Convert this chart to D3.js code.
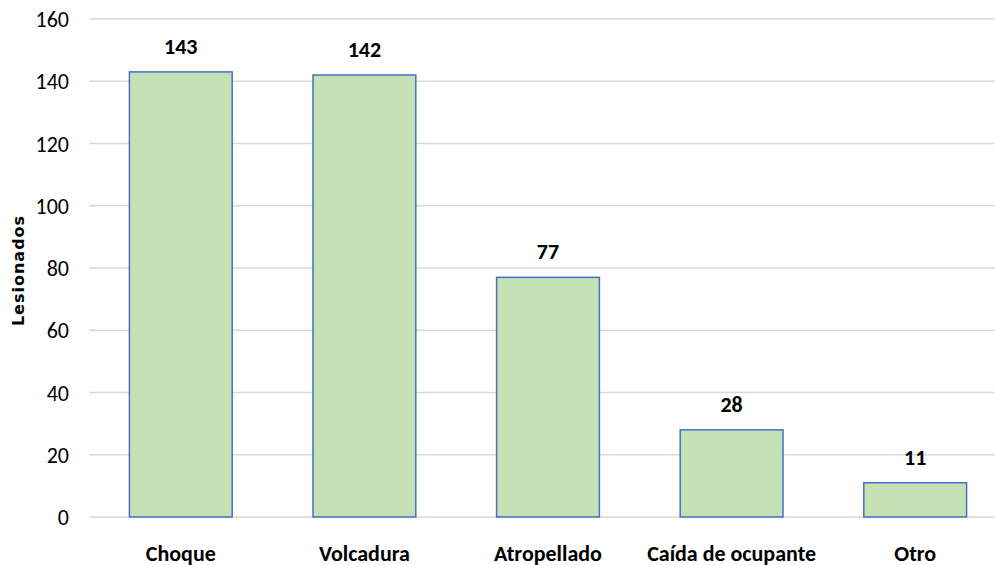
<!DOCTYPE html>
<html><head><meta charset="utf-8">
<script src="https://cdn.jsdelivr.net/npm/d3@7"></script>
<style>body{margin:0;background:#fff;} svg{display:block;}</style>
</head><body>
<script>
const categories = ["Choque", "Volcadura", "Atropellado", "Caída de ocupante", "Otro"];
const values = [143, 142, 77, 28, 11];
const yTicks = [0, 20, 40, 60, 80, 100, 120, 140, 160];
const yTitle = "Lesionados";

const W = 995, H = 565;
const svg = d3.select("body").append("svg").attr("width", W).attr("height", H);
const font = "Carlito, 'Liberation Sans Narrow', 'Open Sans', sans-serif";
const titleFont = "'DejaVu Sans', 'Open Sans', sans-serif";

const x = d3.scaleBand().domain(categories).range([89, 1007]).paddingInner(0.44).paddingOuter(0.22);
const y = d3.scaleLinear().domain([0, 160]).range([517, 19]);

// gridlines
svg.append("g").selectAll("line").data(yTicks).join("line")
  .attr("x1", 89).attr("x2", W).attr("y1", d => y(d)).attr("y2", d => y(d))
  .attr("stroke", "#d9d9d9").attr("stroke-width", 1.5);

// y axis labels
const yAxis = d3.axisLeft(y).tickValues(yTicks).tickSize(0).tickPadding(0);
const gy = svg.append("g").attr("transform", "translate(69,0)").call(yAxis);
gy.select(".domain").remove();
gy.selectAll("text").attr("font-family", font).attr("font-size", 22).attr("fill", "#000").attr("dy", "0.35em");

// bars
svg.append("g").selectAll("rect").data(values).join("rect")
  .attr("x", (d, i) => x(categories[i]))
  .attr("width", x.bandwidth())
  .attr("y", d => y(d))
  .attr("height", d => y(0) - y(d))
  .attr("fill", "#c5e0b4").attr("stroke", "#4472c4").attr("stroke-width", 1.5);

// value labels
svg.append("g").selectAll("text").data(values).join("text")
  .attr("x", (d, i) => x(categories[i]) + x.bandwidth() / 2)
  .attr("y", d => y(d) - 18)
  .attr("text-anchor", "middle").attr("font-family", font).attr("font-weight", "bold")
  .attr("font-size", 22).attr("fill", "#000").text(d => d);

// x axis labels
const xAxis = d3.axisBottom(x).tickSize(0).tickPadding(0);
const gx = svg.append("g").attr("transform", "translate(0,561)").call(xAxis);
gx.select(".domain").remove();
gx.selectAll("text").attr("font-family", font).attr("font-weight", "bold").attr("font-size", 22)
  .attr("fill", "#000").attr("dy", 0).attr("y", 0);

// y title
svg.append("text").attr("transform", "translate(24,270.5) rotate(-90)")
  .attr("text-anchor", "middle").attr("font-family", titleFont).attr("font-weight", "bold")
  .attr("font-size", 16).attr("letter-spacing", 1).attr("fill", "#000").text(yTitle);
</script>
</body></html>
